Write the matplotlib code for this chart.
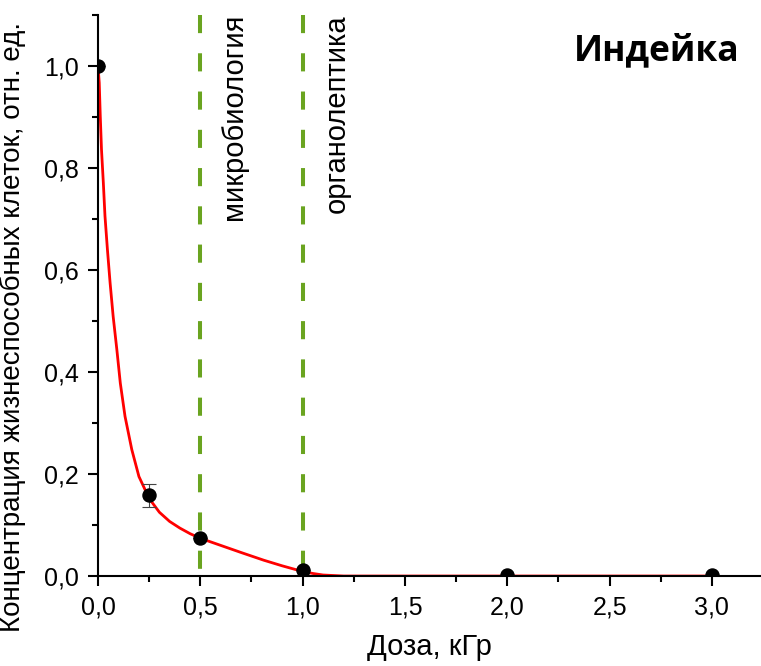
import matplotlib.pyplot as plt
from matplotlib.ticker import MultipleLocator, FuncFormatter

# measured points
dose = [0.0, 0.25, 0.5, 1.0, 2.0, 3.0]
conc = [1.0, 0.158, 0.074, 0.012, 0.002, 0.002]
conc_err = [0.0, 0.023, 0.0, 0.0, 0.0, 0.0]

# fitted curve
fit_x = [0.0, 0.006, 0.011, 0.017, 0.026, 0.034, 0.046, 0.059, 0.074, 0.092,
         0.109, 0.132, 0.165, 0.2, 0.25, 0.3, 0.35, 0.4, 0.45, 0.5,
         0.6, 0.7, 0.81, 0.9, 0.99, 1.05, 1.1, 1.15, 1.2, 1.3, 2.0, 3.0]
fit_y = [1.0, 0.967, 0.902, 0.836, 0.771, 0.706, 0.640, 0.575, 0.509, 0.444,
         0.378, 0.313, 0.248, 0.195, 0.152, 0.125, 0.107, 0.094, 0.083, 0.074,
         0.060, 0.046, 0.031, 0.020, 0.010, 0.005, 0.002, 0.001, 0.0, 0.0, 0.0, 0.0]

thresholds = [0.5, 1.0]
threshold_names = ['микробиология', 'органолептика']

plt.rcParams['font.family'] = ['Liberation Sans', 'DejaVu Sans']

fig = plt.figure(figsize=(7.61, 6.66), dpi=100)
ax = fig.add_axes([0.1288, 0.1351, 0.8712, 0.8424])

green = '#6aa420'
for xv, name in zip(thresholds, threshold_names):
    ax.plot([xv, xv], [1.1, 0], color=green, lw=2.9, dashes=(4.5, 5.0), zorder=1)
    ax.text(xv + 0.165, 1.102, name, rotation=90, ha='center', va='top',
            fontsize=21)

ax.plot(fit_x, fit_y, color='red', lw=2.0, zorder=2, solid_joinstyle='round')
ax.errorbar(dose, conc, yerr=conc_err, fmt='o', color='black', ms=9.4,
            ecolor='#444444', elinewidth=0.8, capsize=5, capthick=0.8, zorder=3)

ax.set_xlim(0, 3.24)
ax.set_ylim(0, 1.1)
ax.spines['top'].set_visible(False)
ax.spines['right'].set_visible(False)
for s in ['left', 'bottom']:
    ax.spines[s].set_linewidth(1.5)
    ax.spines[s].set_zorder(5)

ax.xaxis.set_major_locator(MultipleLocator(0.5))
ax.xaxis.set_minor_locator(MultipleLocator(0.25))
ax.yaxis.set_major_locator(MultipleLocator(0.2))
ax.yaxis.set_minor_locator(MultipleLocator(0.1))
comma = FuncFormatter(lambda v, p: f'{v:.1f}'.replace('.', ','))
ax.xaxis.set_major_formatter(comma)
ax.yaxis.set_major_formatter(comma)
ax.tick_params(which='major', direction='out', length=7, width=1.5, labelsize=18, pad=7)
ax.tick_params(which='minor', direction='out', length=4, width=1.5)

ax.set_xlabel('Доза, кГр', fontsize=21, labelpad=10)
ax.set_ylabel('Концентрация жизнеспособных клеток, отн. ед.', fontsize=20)
ax.yaxis.set_label_coords(-0.108, 0.444)

ax.text(0.968, 0.935, 'Индейка', transform=ax.transAxes, ha='right', va='center',
        fontsize=25.5, fontweight='bold', family=['Open Sans', 'DejaVu Sans'])

fig.savefig('out.png', dpi=100)
